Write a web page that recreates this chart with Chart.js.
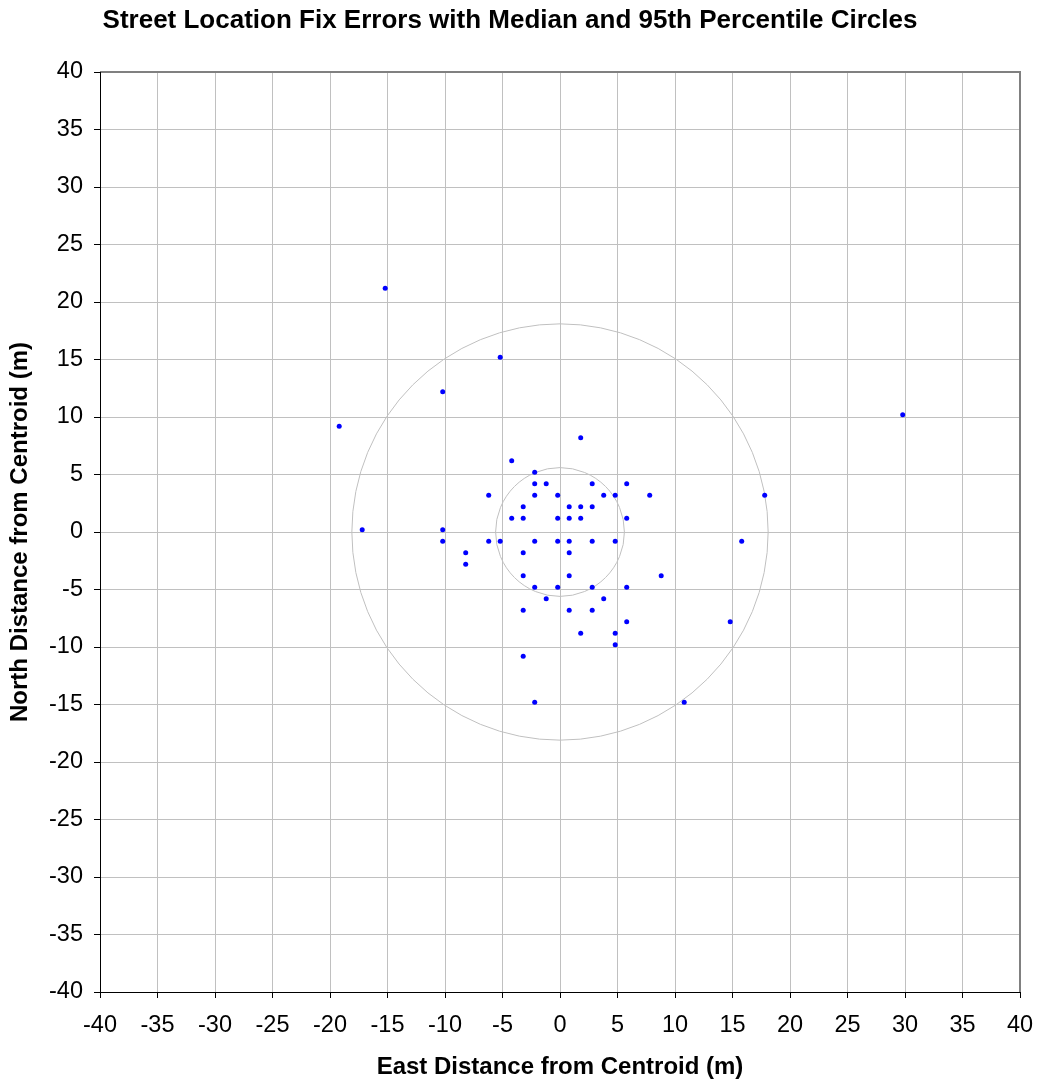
<!DOCTYPE html>
<html>
<head>
<meta charset="utf-8">
<script src="https://cdn.jsdelivr.net/npm/chart.js@4/dist/chart.umd.min.js"></script>
<style>
  html, body { margin: 0; padding: 0; background: #ffffff; }
  #wrap { width: 1038px; height: 1082px; }
</style>
</head>
<body>
<div id="wrap"><canvas id="c" width="1038" height="1082"></canvas></div>
<script>
// Data
const chartTitle = "Street Location Fix Errors with Median and 95th Percentile Circles";
const xTitle = "East Distance from Centroid (m)";
const yTitle = "North Distance from Centroid (m)";

const eastErrors = [
  1.8, -4.2, -2.2, -2.2, -1.2, 2.8, 5.8, -6.2, -2.2, -0.2, 3.8, 4.8, 7.8,
  -3.2, 0.8, 1.8, 2.8, -4.2, -3.2, -0.2, 0.8, 1.8, 5.8,
  -10.2, -10.2, -6.2, -5.2, -2.2, -0.2, 0.8, 2.8, 4.8,
  -8.2, -3.2, 0.8, -8.2, -3.2, 0.8, 8.8,
  -2.2, -0.2, 2.8, 5.8, -1.2, 3.8, -3.2, 0.8, 2.8, 5.8,
  1.8, 4.8, 4.8, -3.2, -2.2, 10.8, 14.8,
  -15.2, -5.2, -10.2, -19.2, -17.2, 17.8, 15.8, 29.8
];
const northErrors = [
  8.2, 6.2, 5.2, 4.2, 4.2, 4.2, 4.2, 3.2, 3.2, 3.2, 3.2, 3.2, 3.2,
  2.2, 2.2, 2.2, 2.2, 1.2, 1.2, 1.2, 1.2, 1.2, 1.2,
  0.2, -0.8, -0.8, -0.8, -0.8, -0.8, -0.8, -0.8, -0.8,
  -1.8, -1.8, -1.8, -2.8, -3.8, -3.8, -3.8,
  -4.8, -4.8, -4.8, -4.8, -5.8, -5.8, -6.8, -6.8, -6.8, -7.8,
  -8.8, -8.8, -9.8, -10.8, -14.8, -14.8, -7.8,
  21.2, 15.2, 12.2, 9.2, 0.2, 3.2, -0.8, 10.2
];

// Circle radii (m): median and 95th percentile
const circleLabels = ["Median", "95th Percentile"];
const circleRadii = [5.6, 18.1];

const axisMin = -40, axisMax = 40, axisStep = 5;

const points = eastErrors.map((x, i) => ({ x: x, y: northErrors[i] }));

const circlesPlugin = {
  id: 'circles',
  beforeDatasetsDraw(chart) {
    const { ctx, scales: { x, y }, chartArea } = chart;
    const cx = x.getPixelForValue(0), cy = y.getPixelForValue(0);
    ctx.save();
    ctx.beginPath();
    ctx.rect(chartArea.left, chartArea.top, chartArea.width, chartArea.height);
    ctx.clip();
    ctx.strokeStyle = '#c0c0c0';
    ctx.lineWidth = 1;
    circleRadii.forEach(r => {
      const rx = Math.abs(x.getPixelForValue(r) - cx);
      const ry = Math.abs(y.getPixelForValue(r) - cy);
      ctx.beginPath();
      ctx.ellipse(cx, cy, rx, ry, 0, 0, Math.PI * 2);
      ctx.stroke();
    });
    ctx.restore();
  },
  afterDraw(chart) {
    const { ctx, chartArea: a } = chart;
    ctx.save();
    ctx.strokeStyle = '#808080';
    ctx.lineWidth = 2;
    ctx.beginPath();
    ctx.moveTo(a.left, a.top);
    ctx.lineTo(a.right, a.top);
    ctx.lineTo(a.right, a.bottom);
    ctx.stroke();
    ctx.strokeStyle = '#000000';
    ctx.lineWidth = 1;
    ctx.beginPath();
    ctx.moveTo(a.left + 0.5, a.top);
    ctx.lineTo(a.left + 0.5, a.bottom + 0.5);
    ctx.lineTo(a.right, a.bottom + 0.5);
    ctx.stroke();
    ctx.restore();
  }
};

const fam = "'Liberation Sans', Arial, sans-serif";
const tickFont = { family: fam, size: 23.5 };
const titleFont = { family: fam, size: 26, weight: 'bold' };
const axisTitleFont = { family: fam, size: 24, weight: 'bold' };

new Chart(document.getElementById('c'), {
  type: 'scatter',
  data: {
    datasets: [{
      label: 'Fix errors',
      data: points,
      backgroundColor: '#0000ff',
      borderColor: '#0000ff',
      pointRadius: 2.5,
      pointBorderWidth: 0,
      pointHoverRadius: 2.5
    }]
  },
  options: {
    responsive: false,
    animation: false,
    layout: { padding: { left: 0, right: 18, top: 0, bottom: 0 } },
    plugins: {
      legend: { display: false },
      tooltip: { enabled: false },
      title: {
        display: true,
        text: chartTitle,
        color: '#000000',
        font: titleFont,
        padding: { top: 5, bottom: 35.8 }
      }
    },
    scales: {
      x: {
        type: 'linear',
        min: axisMin, max: axisMax,
        afterFit: s => { s.height = 90; s.paddingLeft = 0; s.paddingRight = 0; },
        ticks: { stepSize: axisStep, color: '#000000', font: tickFont, padding: 13, maxRotation: 0 },
        grid: { color: '#c0c0c0', tickColor: '#000000', tickLength: 6, lineWidth: 1 },
        border: { color: '#000000', width: 1 },
        title: { display: true, text: xTitle, color: '#000000', font: axisTitleFont, padding: { top: 4, bottom: 0 } }
      },
      y: {
        type: 'linear',
        min: axisMin, max: axisMax,
        afterFit: s => { s.width = 100; s.paddingTop = 0; s.paddingBottom = 0; },
        ticks: { stepSize: axisStep, color: '#000000', font: tickFont, padding: 11 },
        grid: { color: '#c0c0c0', tickColor: '#000000', tickLength: 6, lineWidth: 1 },
        border: { color: '#000000', width: 1 },
        title: { display: true, text: yTitle, color: '#000000', font: axisTitleFont, padding: { top: 6, bottom: 0 } }
      }
    }
  },
  plugins: [circlesPlugin]
});
</script>
</body>
</html>
